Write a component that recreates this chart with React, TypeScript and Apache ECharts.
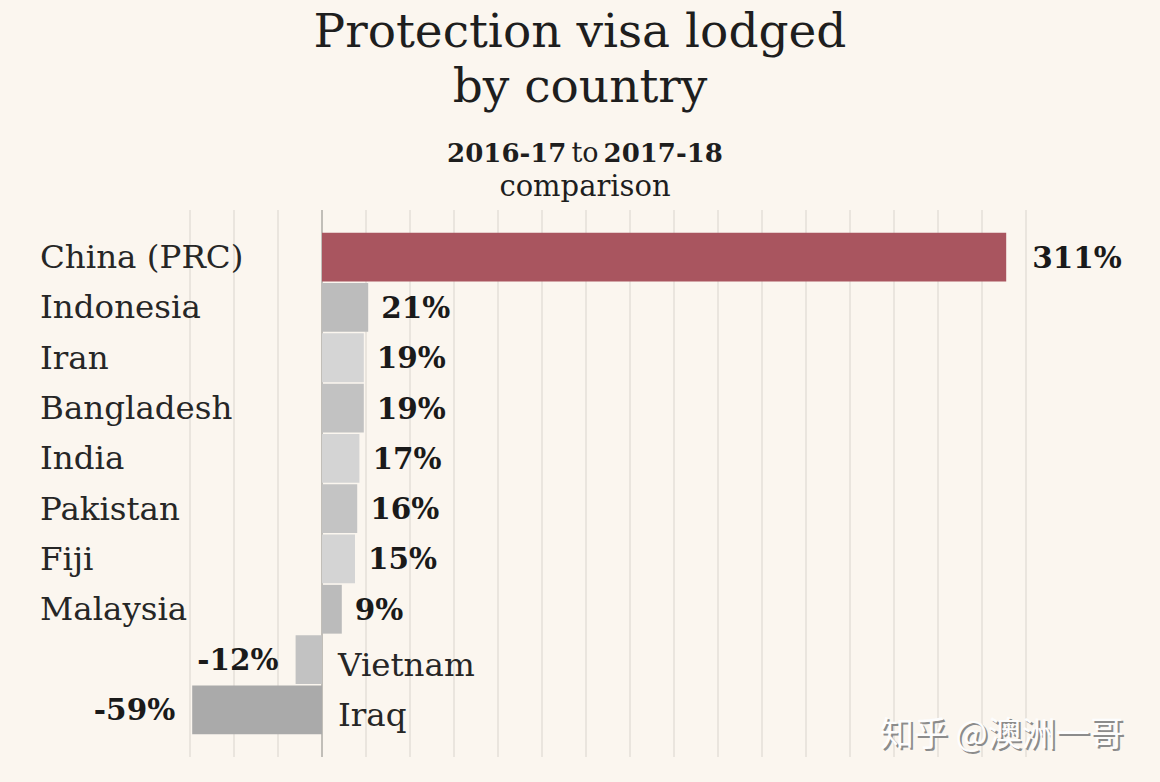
import React, { useEffect, useRef } from "react";
import * as echarts from "echarts";

const countries = ["China (PRC)", "Indonesia", "Iran", "Bangladesh", "India", "Pakistan", "Fiji", "Malaysia", "Vietnam", "Iraq"];
const changes = [311, 21, 19, 19, 17, 16, 15, 9, -12, -59];
const barColors = ["#a9555f", "#bcbcbc", "#d5d5d5", "#c2c2c2", "#d4d4d4", "#c4c4c4", "#d4d4d4", "#bbbbbb", "#c2c2c2", "#aaaaaa"];
const xMin = -60;
const xMax = 320;
const xStep = 20;
const titleLine1 = "Protection visa lodged";
const titleLine2 = "by country";
const periodFrom = "2016-17";
const periodTo = "2017-18";
const watermark = "知乎 @澳洲一哥";

const SERIF = "DejaVu Serif";

export default function App() {
  const ref = useRef<HTMLDivElement>(null);
  useEffect(() => {
    if (!ref.current) return;
    const chart = echarts.init(ref.current, null, { renderer: "svg" });
    const nTicks = Math.round((xMax - xMin) / xStep) + 1;
    const splitColors = Array.from({ length: nTicks }, (_, i) =>
      xMin + i * xStep === 0 ? "#aeaba6" : "#e4dfd8"
    );
    const maxVal = Math.max(...changes);
    const data = changes.map((v, i) => ({
      value: v,
      itemStyle: { color: barColors[i] },
      label: {
        show: true,
        position: v >= 0 ? "right" : "left",
        distance: v === maxVal ? 26 : v >= 0 ? 13 : 17,
      },
    }));
    const titleStyle = {
      fontFamily: SERIF,
      fontSize: 47,
      fontWeight: "normal",
      color: "#1e1e1e",
    };
    chart.setOption({
      animation: false,
      backgroundColor: "#fbf6ef",
      title: [
        { text: titleLine1, left: 580, top: 7, textAlign: "center", padding: 0, textStyle: titleStyle },
        { text: titleLine2, left: 580, top: 62, textAlign: "center", padding: 0, textStyle: titleStyle },
        {
          text: `{b|${periodFrom}} {r|to} {b|${periodTo}}\n{c|comparison}`,
          left: 580,
          top: 131,
          textAlign: "center",
          textStyle: {
            fontWeight: "normal",
            rich: {
              b: { fontFamily: SERIF, fontSize: 26, fontWeight: "bold", color: "#1e1e1e", lineHeight: 33 },
              r: { fontFamily: SERIF, fontSize: 27, fontWeight: "normal", color: "#1e1e1e", lineHeight: 33 },
              c: { fontFamily: SERIF, fontSize: 29, fontWeight: "normal", color: "#1e1e1e", lineHeight: 33 },
            },
          },
        },
      ],
      grid: [
        { left: 190, right: 134, top: 210, bottom: 25 },
        { left: 190, right: 134, top: 232, bottom: 47 },
      ],
      xAxis: [
        {
          gridIndex: 0,
          type: "value",
          min: xMin,
          max: xMax,
          interval: xStep,
          axisLine: { show: false },
          axisTick: { show: false },
          axisLabel: { show: false },
          splitLine: { show: true, lineStyle: { color: splitColors, width: 1.5 } },
        },
        {
          gridIndex: 1,
          type: "value",
          min: xMin,
          max: xMax,
          interval: xStep,
          show: false,
          splitLine: { show: false },
        },
      ],
      yAxis: [
        { gridIndex: 0, type: "value", show: false, splitLine: { show: false } },
        {
          gridIndex: 1,
          type: "category",
          inverse: true,
          data: countries,
          axisLine: { show: false, onZero: false },
          axisTick: { show: false },
          splitLine: { show: false },
          axisLabel: {
            interval: 0,
            align: "left",
            margin: 150,
            fontFamily: SERIF,
            fontSize: 32,
            color: "#262626",
            formatter: (name: string) => {
              const idx = countries.indexOf(name);
              return changes[idx] < 0 ? `{neg|${name}}` : `{pos|${name}}`;
            },
            rich: {
              pos: { fontFamily: SERIF, fontSize: 32.5, color: "#262626" },
              neg: { fontFamily: SERIF, fontSize: 32.5, color: "#262626", padding: [10, 0, 0, 298] },
            },
          },
        },
      ],
      series: [
        {
          type: "bar",
          xAxisIndex: 1,
          yAxisIndex: 1,
          data,
          barCategoryGap: "3%",
          label: {
            fontFamily: SERIF,
            fontSize: 29.5,
            fontWeight: "bold",
            color: "#1a1a1a",
            formatter: (p: any) => `${p.value}%`,
          },
        },
      ],
      graphic: [
        {
          type: "text",
          left: 882,
          top: 716,
          z: 100,
          style: {
            text: watermark,
            fontFamily: "Noto Sans CJK SC",
            fontSize: 34,
            fill: "#8c8c8c",
          },
        },
        {
          type: "text",
          left: 880,
          top: 714,
          z: 101,
          style: {
            text: watermark,
            fontFamily: "Noto Sans CJK SC",
            fontSize: 34,
            fill: "#fdfdfd",
          },
        },
      ],
    });
    return () => chart.dispose();
  }, []);
  return (
    <div
      ref={ref}
      style={{ position: "fixed", left: 0, top: 0, width: 1160, height: 782 }}
    />
  );
}
